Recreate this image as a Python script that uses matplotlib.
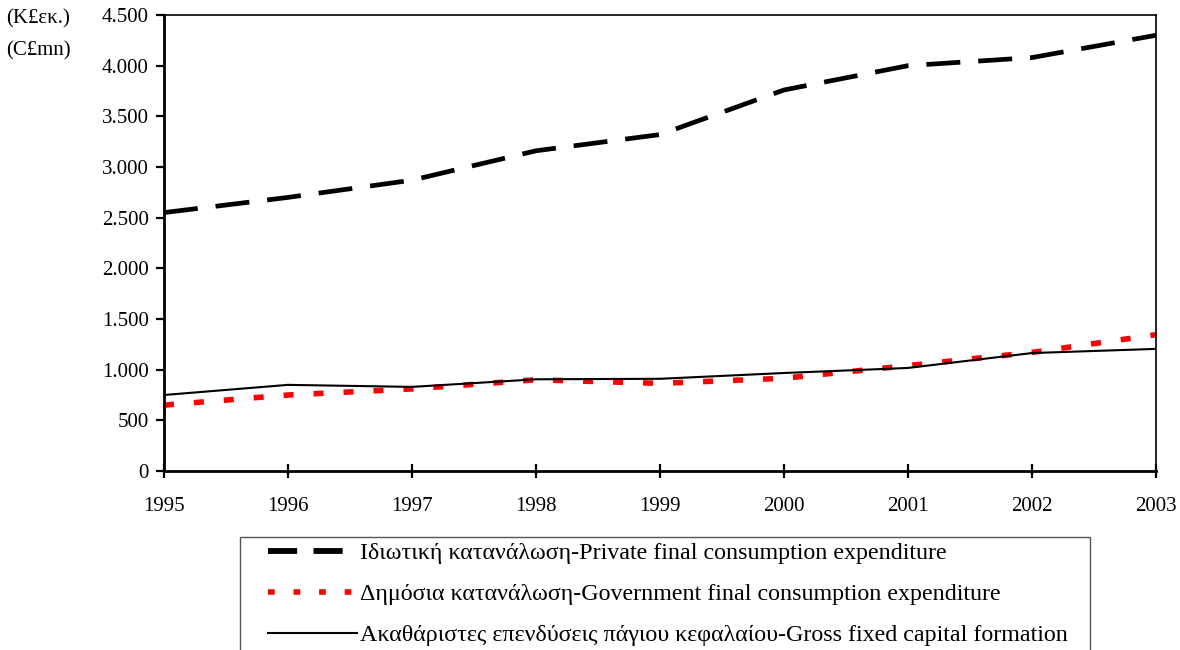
import numpy as np
import matplotlib
matplotlib.use('Agg')
import matplotlib.pyplot as plt
from matplotlib.lines import Line2D
from matplotlib.patches import Rectangle

# data
years = [1995, 1996, 1997, 1998, 1999, 2000, 2001, 2002, 2003]
private = [2550, 2700, 2870, 3160, 3320, 3760, 4000, 4080, 4300]
government = [650, 750, 810, 900, 865, 915, 1040, 1170, 1345]
gfcf = [750, 850, 830, 905, 910, 967, 1017, 1164, 1205]
yticks = [0, 500, 1000, 1500, 2000, 2500, 3000, 3500, 4000, 4500]
ytick_labels = ['0', '500', '1.000', '1.500', '2.000', '2.500', '3.000',
                '3.500', '4.000', '4.500']
labels = ['Ιδιωτική κατανάλωση-Private final consumption expenditure',
          'Δημόσια κατανάλωση-Government final consumption expenditure',
          'Ακαθάριστες επενδύσεις πάγιου κεφαλαίου-Gross fixed capital formation']

plt.rcParams['font.family'] = ['Liberation Serif', 'DejaVu Serif']

fig = plt.figure(figsize=(11.8, 6.5), dpi=100)
ax = fig.add_axes([164 / 1180, 1 - 471 / 650, (1156 - 164) / 1180, (471 - 15) / 650])

l1, = ax.plot(years, private, color='black', lw=3.4, dashes=(7.2, 3.8),
              solid_capstyle='butt', dash_capstyle='butt')
l2, = ax.plot(years, government, color='red', lw=4.0, dashes=(1.8, 3.6),
              dash_capstyle='butt')
l3, = ax.plot(years, gfcf, color='black', lw=1.5)

ax.set_xlim(years[0], years[-1])
ax.set_ylim(0, 4500)
ax.set_xticks(years)
ax.set_xticklabels([str(y) for y in years])
ax.set_yticks(yticks)
ax.set_yticklabels(ytick_labels)
ax.tick_params(axis='both', labelsize=15, width=1.6, length=6, direction='out')
ax.tick_params(axis='x', direction='inout', length=10, pad=14)
ax.tick_params(axis='y', pad=5)

for s in ['left', 'bottom']:
    ax.spines[s].set_linewidth(2.0)
for s in ['top', 'right']:
    ax.spines[s].set_linewidth(1.2)

fig.text(6 / 1180, 1 - 19 / 650, '(K£εκ.)', fontsize=15, va='center')
fig.text(6 / 1180, 1 - 51 / 650, '(C£mn)', fontsize=15, va='center')

# legend frame, cut by the figure's lower edge as in the original
fig.patches.append(Rectangle((240 / 1180, -0.05), (1090 - 240) / 1180,
                             1 - 537 / 650 + 0.05, transform=fig.transFigure,
                             fill=False, edgecolor='#555555', lw=1.0))

h1 = Line2D([], [], color='black', lw=4.2, dashes=(5.0, 2.8), dash_capstyle='butt')
h2 = Line2D([], [], color='red', lw=4.0, dashes=(1.2, 3.4), dash_capstyle='butt')
h3 = Line2D([], [], color='black', lw=1.5)
leg = fig.legend([h1, h2, h3], labels, loc='upper left',
                 bbox_to_anchor=(267 / 1180, 1 - 541 / 650),
                 fontsize=17.3, frameon=False,
                 handlelength=3.7, handletextpad=0.1, labelspacing=0.8,
                 borderpad=0.05, borderaxespad=0)

plt.savefig('out.png', dpi=100)
